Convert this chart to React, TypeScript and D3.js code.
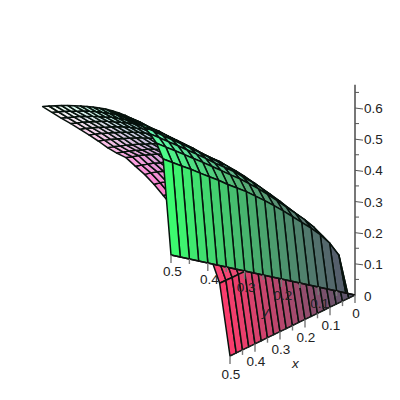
import React from 'react';
import * as d3 from 'd3';

const gridX = [0,0.025,0.05,0.075,0.1,0.125,0.15,0.175,0.2,0.225,0.25,0.275,0.3,0.325,0.35,0.375,0.4,0.425,0.45,0.475,0.5];
// surface heights: one row per x grid line, one column per y grid line
const heights = [
[0,0,0,0,0,0,0,0,0,0,0,0,0,0,0,0,0,0,0,0,0],
[0,.131,.164,.184,.199,.211,.223,.235,.245,.255,.263,.271,.276,.281,.288,.293,.298,.304,.308,.313,.318],
[0,.154,.194,.218,.236,.250,.264,.278,.291,.303,.313,.322,.328,.335,.342,.349,.355,.361,.367,.372,.378],
[0,.169,.213,.240,.259,.275,.292,.307,.322,.335,.345,.356,.363,.369,.378,.385,.392,.399,.405,.412,.418],
[0,.180,.228,.257,.278,.295,.313,.330,.346,.360,.372,.383,.390,.398,.407,.415,.422,.429,.436,.444,.450],
[0,.188,.241,.270,.292,.311,.329,.347,.365,.379,.392,.405,.412,.420,.430,.438,.446,.454,.461,.469,.476],
[0,.196,.250,.282,.305,.324,.343,.362,.381,.397,.411,.423,.431,.439,.449,.458,.466,.475,.482,.491,.498],
[0,.201,.258,.291,.315,.335,.355,.375,.394,.411,.425,.439,.447,.455,.466,.475,.484,.492,.501,.509,.517],
[0,.206,.266,.300,.325,.345,.366,.387,.408,.425,.439,.455,.462,.471,.482,.492,.501,.509,.517,.526,.535],
[0,.210,.272,.308,.333,.353,.376,.398,.419,.437,.453,.467,.476,.485,.496,.506,.515,.525,.533,.542,.551],
[0,.213,.278,.314,.340,.361,.385,.408,.429,.449,.464,.480,.488,.497,.509,.520,.529,.539,.547,.557,.566],
[0,.216,.283,.320,.347,.368,.392,.415,.439,.459,.474,.490,.499,.509,.521,.531,.541,.551,.560,.570,.579],
[0,.218,.287,.326,.352,.374,.399,.424,.448,.468,.485,.501,.509,.519,.531,.543,.553,.563,.573,.582,.592],
[0,.220,.291,.331,.358,.380,.406,.432,.456,.476,.494,.512,.520,.530,.542,.554,.564,.574,.583,.594,.604],
[0,.222,.295,.335,.362,.385,.412,.437,.463,.485,.502,.520,.528,.538,.552,.563,.574,.585,.594,.605,.615],
[0,.224,.298,.339,.367,.391,.418,.445,.471,.493,.511,.529,.538,.548,.561,.573,.584,.595,.605,.616,.626],
[0,.225,.301,.342,.372,.395,.423,.449,.477,.499,.517,.537,.545,.555,.569,.582,.592,.604,.614,.624,.636],
[0,.226,.304,.346,.376,.400,.428,.456,.483,.506,.526,.545,.554,.564,.578,.590,.602,.613,.624,.634,.646],
[0,.226,.306,.350,.379,.404,.432,.461,.489,.514,.532,.553,.561,.571,.586,.599,.610,.622,.632,.644,.655],
[0,.227,.308,.353,.382,.407,.437,.465,.495,.520,.539,.559,.568,.579,.593,.606,.618,.629,.640,.652,.664],
[0,.227,.310,.355,.385,.410,.440,.470,.500,.525,.545,.566,.574,.585,.600,.613,.625,.637,.648,.660,.672],
];
const zTicks = [0.1,0.2,0.3,0.4,0.5,0.6];
const zMinor = [0.05,0.15,0.25,0.35,0.45,0.55,0.65];
const xTicks = [0,0.1,0.2,0.3,0.4,0.5];
const yTicks = [0.1,0.2,0.3,0.4,0.5];
const baseMinor = [0.05,0.15,0.25,0.35,0.45];

const sxR = d3.scaleLinear().domain([0,0.5]).range([0,-125]);
const sxU = d3.scaleLinear().domain([0,0.5]).range([0,61]);
const syR = d3.scaleLinear().domain([0,0.5]).range([0,-184]);
const syU = d3.scaleLinear().domain([0,0.5]).range([0,-40]);
const szU = d3.scaleLinear().domain([0,0.6]).range([0,-187]);
const szR = d3.scaleLinear().domain([0,0.6]).range([0,-3]);
const P = (x:number,y:number,z:number):[number,number] => [355+sxR(x)+syR(y)+szR(z), 295+sxU(x)+syU(y)+szU(z)];
const depth=(x:number,y:number,z:number)=> -0.781*x+0.531*y-0.44*z;

const bS = d3.scaleLinear().domain([0,0.3,0.5,0.67]).range([105,118,212,248]);
const chan=(a:number,b:number,e:number)=>{
  const base=88-28*(b/0.5);
  return Math.min(255,base+(255-base)*Math.pow(Math.max(a-0.0125,0)/0.4875,1-e*(b/0.5)));
};

export default function App(){
  const quads:{d:string,k:number,c:string}[]=[];
  for(let i=0;i<20;i++)for(let j=0;j<20;j++){
    const c=[[i,j],[i+1,j],[i+1,j+1],[i,j+1]].map(([a,b])=>[gridX[a],gridX[b],heights[a][b]]);
    const mx=d3.mean(c,p=>p[0])!, my=d3.mean(c,p=>p[1])!, mz=d3.mean(c,p=>p[2])!;
    quads.push({d:'M'+c.map(p=>P(p[0],p[1],p[2]).join(',')).join('L')+'Z',k:depth(mx,my,mz),c:`rgb(${chan(mx,my,0.2)|0},${chan(my,mx,0)|0},${bS(mz)|0})`});
  }
  quads.sort((a,b)=>a.k-b.k);
  const axis='#777';
  const txt={fontFamily:'"Liberation Sans",Arial,sans-serif',fontSize:13.5,fill:'#222'} as const;
  const o=P(0,0,0);
  return <svg width={400} height={400} style={{position:'absolute',left:0,top:0,background:'#fff'}}>
    {quads.map((q,i)=><path key={i} d={q.d} fill={q.c} stroke="#07120d" strokeWidth={1.5} strokeLinejoin="round"/>)}
    <line x1={o[0]} y1={o[1]} x2={o[0]} y2={P(0,0,0.675)[1]} stroke={axis} strokeWidth={2}/>
    {zTicks.map(t=>{const y=P(0,0,t)[1];return <g key={t}><line x1={o[0]} y1={y} x2={o[0]+8} y2={y+1} stroke="#555"/><text x={o[0]+9} y={y+5} {...txt}>{t}</text></g>})}
    {zMinor.map(t=>{const y=P(0,0,t)[1];return <line key={t} x1={o[0]} y1={y} x2={o[0]+4} y2={y} stroke="#555"/>})}
    <text x={o[0]+9} y={o[1]+6} {...txt}>0</text>
    <line x1={o[0]} y1={o[1]} x2={P(0.5,0,0)[0]} y2={P(0.5,0,0)[1]} stroke="#222"/>
    <line x1={o[0]} y1={o[1]} x2={P(0,0.5,0)[0]} y2={P(0,0.5,0)[1]} stroke="#111" strokeWidth={1.4}/>
    {xTicks.map(t=>{const p=P(t,0,0);return <g key={t}><line x1={p[0]} y1={p[1]} x2={p[0]} y2={p[1]+8} stroke={axis} strokeWidth={1.4}/><text x={p[0]+1} y={p[1]+22.5} textAnchor="middle" {...txt}>{t}</text></g>})}
    {baseMinor.map(t=>{const p=P(t,0,0);return <line key={t} x1={p[0]} y1={p[1]} x2={p[0]} y2={p[1]+5} stroke={axis} strokeWidth={1.4}/>})}
    {yTicks.map(t=>{const p=P(0,t,0);return <g key={t}><line x1={p[0]} y1={p[1]} x2={p[0]} y2={p[1]+8} stroke={axis} strokeWidth={1.4}/><text x={p[0]+1.5} y={p[1]+21} textAnchor="middle" {...txt}>{t}</text></g>})}
    {baseMinor.map(t=>{const p=P(0,t,0);return <line key={t} x1={p[0]} y1={p[1]} x2={p[0]} y2={p[1]+5} stroke={axis} strokeWidth={1.4}/>})}
    <text x={292} y={368} fontStyle="italic" {...txt}>x</text>
    <text x={262} y={316} fontStyle="italic" {...txt}>y</text>
  </svg>;
}
